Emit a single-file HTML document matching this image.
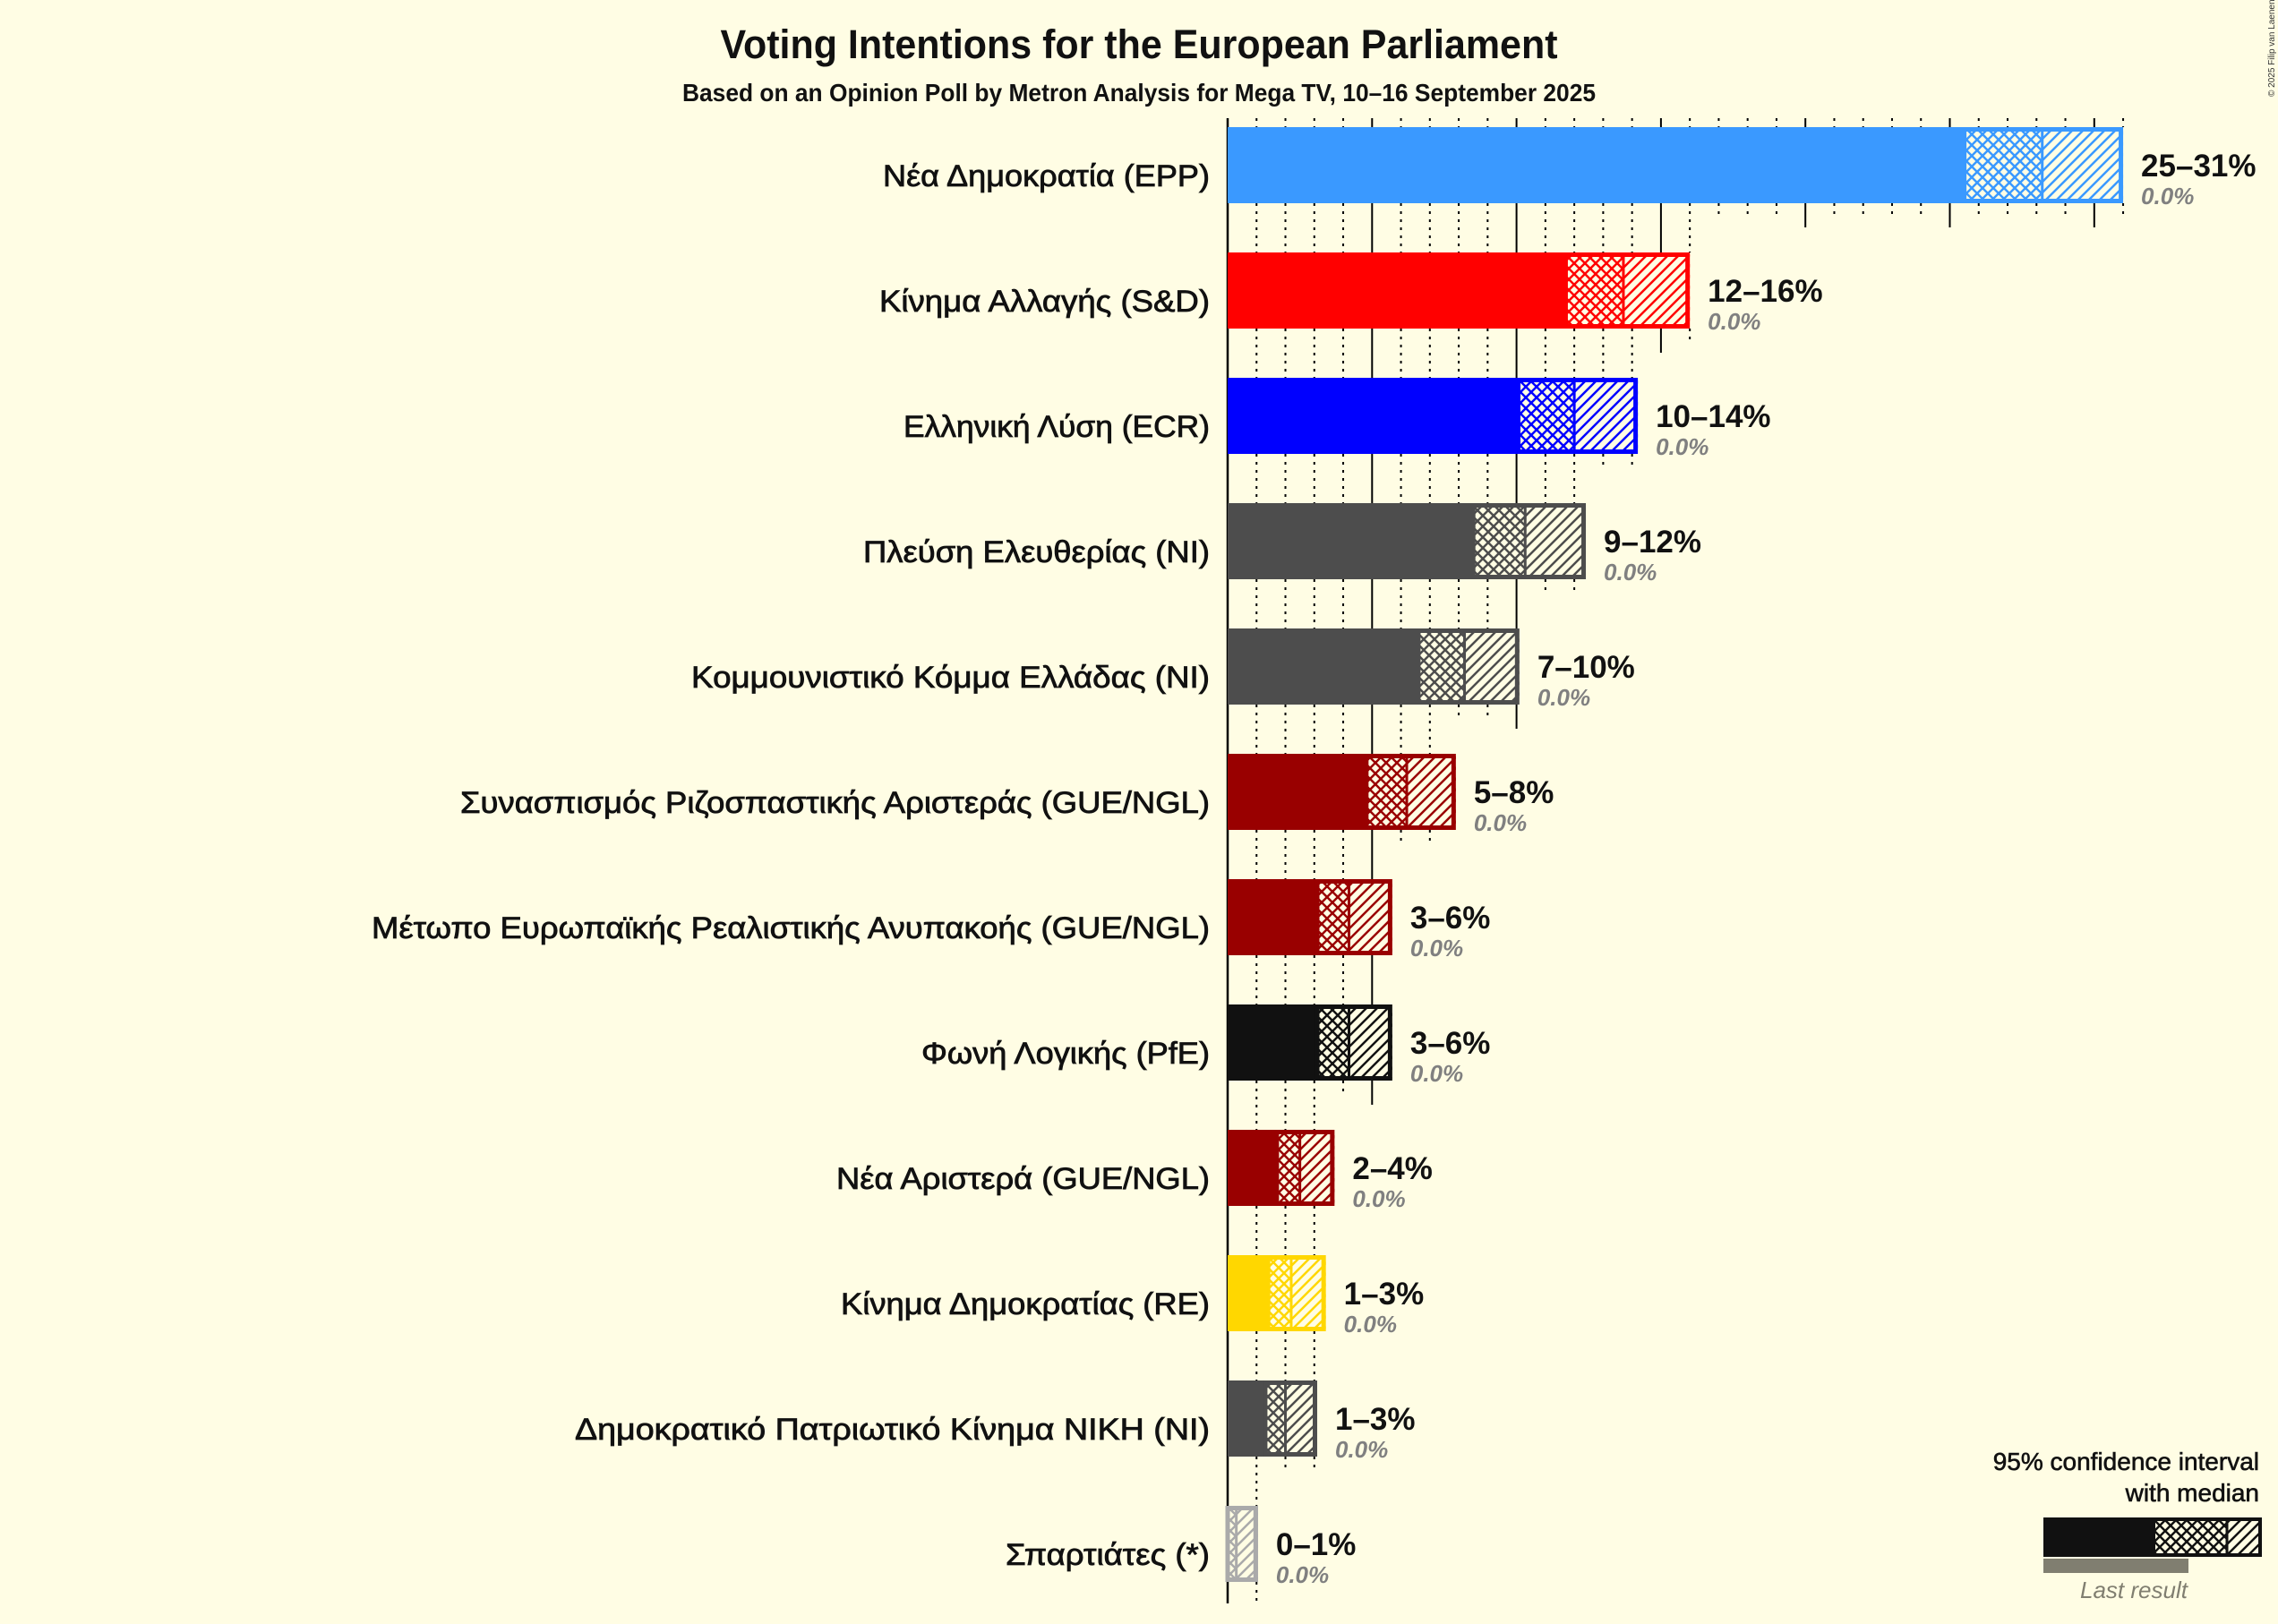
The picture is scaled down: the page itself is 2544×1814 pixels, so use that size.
<!DOCTYPE html>
<html><head><meta charset="utf-8"><style>
html,body{margin:0;padding:0;background:#fffde4;}
svg{display:block;}
text{font-family:"Liberation Sans",sans-serif;}
</style></head><body>
<svg id="s" width="2544" height="1814" xmlns="http://www.w3.org/2000/svg"></svg>
<script>
const X0=1371,U=32.26;
const rows=[
["Νέα Δημοκρατία (EPP)","#3a99ff",25.5,28.2,31,"25–31%",986],
["Κίνημα Αλλαγής (S&D)","#ff0000",11.7,13.7,16,"12–16%",982],
["Ελληνική Λύση (ECR)","#0000ff",10.06,12.0,14.2,"10–14%",1009],
["Πλεύση Ελευθερίας (NI)","#4d4d4d",8.5,10.3,12.4,"9–12%",964],
["Κομμουνιστικό Κόμμα Ελλάδας (NI)","#4d4d4d",6.6,8.2,10.1,"7–10%",772],
["Συνασπισμός Ριζοσπαστικής Αριστεράς (GUE/NGL)","#990000",4.8,6.2,7.9,"5–8%",514],
["Μέτωπο Ευρωπαϊκής Ρεαλιστικής Ανυπακοής (GUE/NGL)","#990000",3.1,4.2,5.7,"3–6%",415],
["Φωνή Λογικής (PfE)","#111111",3.1,4.2,5.7,"3–6%",1029],
["Νέα Αριστερά (GUE/NGL)","#990000",1.7,2.5,3.7,"2–4%",934],
["Κίνημα Δημοκρατίας (RE)","#ffd700",1.4,2.2,3.4,"1–3%",939],
["Δημοκρατικό Πατριωτικό Κίνημα ΝΙΚΗ (NI)","#4d4d4d",1.3,2.0,3.1,"1–3%",642],
["Σπαρτιάτες (*)","#aaaaaa",0,0.3,1.05,"0–1%",1123]];
let h='<defs>';
const cols=[...new Set(rows.map(r=>r[1]).concat(["#111111"]))];
cols.forEach((c,i)=>{
h+=`<pattern id="x${i}" width="12" height="12" patternUnits="userSpaceOnUse"><rect width="12" height="12" fill="#fffde4"/><path d="M-3,3 L3,-3 M0,12 L12,0 M9,15 L15,9 M-3,9 L3,15 M0,0 L12,12 M9,-3 L15,3" stroke="${c}" stroke-width="2.5"/></pattern>`;
h+=`<pattern id="d${i}" width="12" height="12" patternUnits="userSpaceOnUse"><rect width="12" height="12" fill="#fffde4"/><path d="M-3,3 L3,-3 M0,12 L12,0 M9,15 L15,9" stroke="${c}" stroke-width="2.5"/></pattern>`;
});
h+='</defs>';
const px=v=>X0+v*U;
for(let k=1;k<=31;k++){const x=px(k);h+=`<line x1="${x}" y1="132" x2="${x}" y2="142" stroke="#000" stroke-width="2" ${k%5?'stroke-dasharray="3,6"':''}/>`;}
rows.forEach((r,i)=>{
 const top=142+140*i,bot=top+85,nt=top+140;
 const up=r[4],nu=i<11?rows[i+1][4]:0;
 for(let k=1;k<=Math.floor(up);k++){
  const x=px(k),full=k<=nu;const solid=k%5==0;
  const y2=full?nt:(solid?bot+27:bot+14);
  h+=`<line x1="${x}" y1="${bot}" x2="${x}" y2="${i==11?1791:y2}" stroke="#000" stroke-width="2" ${solid?'':'stroke-dasharray="3,6"'}/>`;
 }
});
h+=`<line x1="${X0}" y1="132" x2="${X0}" y2="1791" stroke="#000" stroke-width="2.5"/>`;
rows.forEach((r,i)=>{
 const top=142+140*i,c=r[1],ci=cols.indexOf(c);
 const a=px(r[2]),m=px(r[3]),b=px(r[4]);
 if(r[2]>0)h+=`<rect x="${X0}" y="${top}" width="${a-X0}" height="85" fill="${c}"/>`;
 h+=`<rect x="${a}" y="${top+2.5}" width="${m-a}" height="80" fill="url(#x${ci})"/>`;
 h+=`<rect x="${m}" y="${top+2.5}" width="${b-m}" height="80" fill="url(#d${ci})"/>`;
 h+=`<rect x="${a}" y="${top+2.5}" width="${b-a-2.5}" height="80" fill="none" stroke="${c}" stroke-width="5"/>`;
 if(r[2]==0)h+=`<rect x="${X0}" y="${top+2.5}" width="${b-X0-2.5}" height="80" fill="none" stroke="${c}" stroke-width="5"/>`;
 h+=`<line x1="${m}" y1="${top+5}" x2="${m}" y2="${top+80}" stroke="${c}" stroke-width="3"/>`;
 h+=`<text x="1351" y="${top+66}" font-size="34" text-anchor="end" fill="#111" stroke="#111" stroke-width="0.8" textLength="${1351-r[6]}" lengthAdjust="spacingAndGlyphs">${r[0].replace('&','&amp;')}</text>`;
 h+=`<text x="${b+20}" y="${top+55}" font-size="35" font-weight="bold" fill="#111">${r[5]}</text>`;
 h+=`<text x="${b+20}" y="${top+86}" font-size="26" font-weight="bold" font-style="italic" fill="#808080">0.0%</text>`;
});
h+=`<text x="1272" y="65" font-size="45" font-weight="bold" text-anchor="middle" fill="#111" textLength="935" lengthAdjust="spacingAndGlyphs">Voting Intentions for the European Parliament</text>`;
h+=`<text x="1272" y="113" font-size="28" font-weight="bold" text-anchor="middle" fill="#111" textLength="1020" lengthAdjust="spacingAndGlyphs">Based on an Opinion Poll by Metron Analysis for Mega TV, 10–16 September 2025</text>`;
h+=`<text x="2540" y="108" font-size="10" fill="#333" transform="rotate(-90 2540 108)">© 2025 Filip van Laenen</text>`;
const lc=cols.indexOf("#111111");
h+=`<text x="2523" y="1642" font-size="28" text-anchor="end" fill="#111" stroke="#111" stroke-width="0.6">95% confidence interval</text>`;
h+=`<text x="2523" y="1677" font-size="28" text-anchor="end" fill="#111" stroke="#111" stroke-width="0.6">with median</text>`;
h+=`<rect x="2282" y="1741" width="162" height="16" fill="#807e70"/>`;
h+=`<rect x="2282" y="1695" width="123" height="44" fill="#111"/>`;
h+=`<rect x="2405" y="1697" width="82" height="40" fill="url(#x${lc})"/>`;
h+=`<rect x="2487" y="1697" width="37" height="40" fill="url(#d${lc})"/>`;
h+=`<rect x="2405" y="1697" width="119" height="40" fill="none" stroke="#111" stroke-width="4"/>`;
h+=`<line x1="2487" y1="1697" x2="2487" y2="1737" stroke="#111" stroke-width="3"/>`;
h+=`<text x="2383" y="1785" font-size="26" font-style="italic" text-anchor="middle" fill="#807e70">Last result</text>`;
document.getElementById('s').innerHTML=h;
</script>
</body></html>
